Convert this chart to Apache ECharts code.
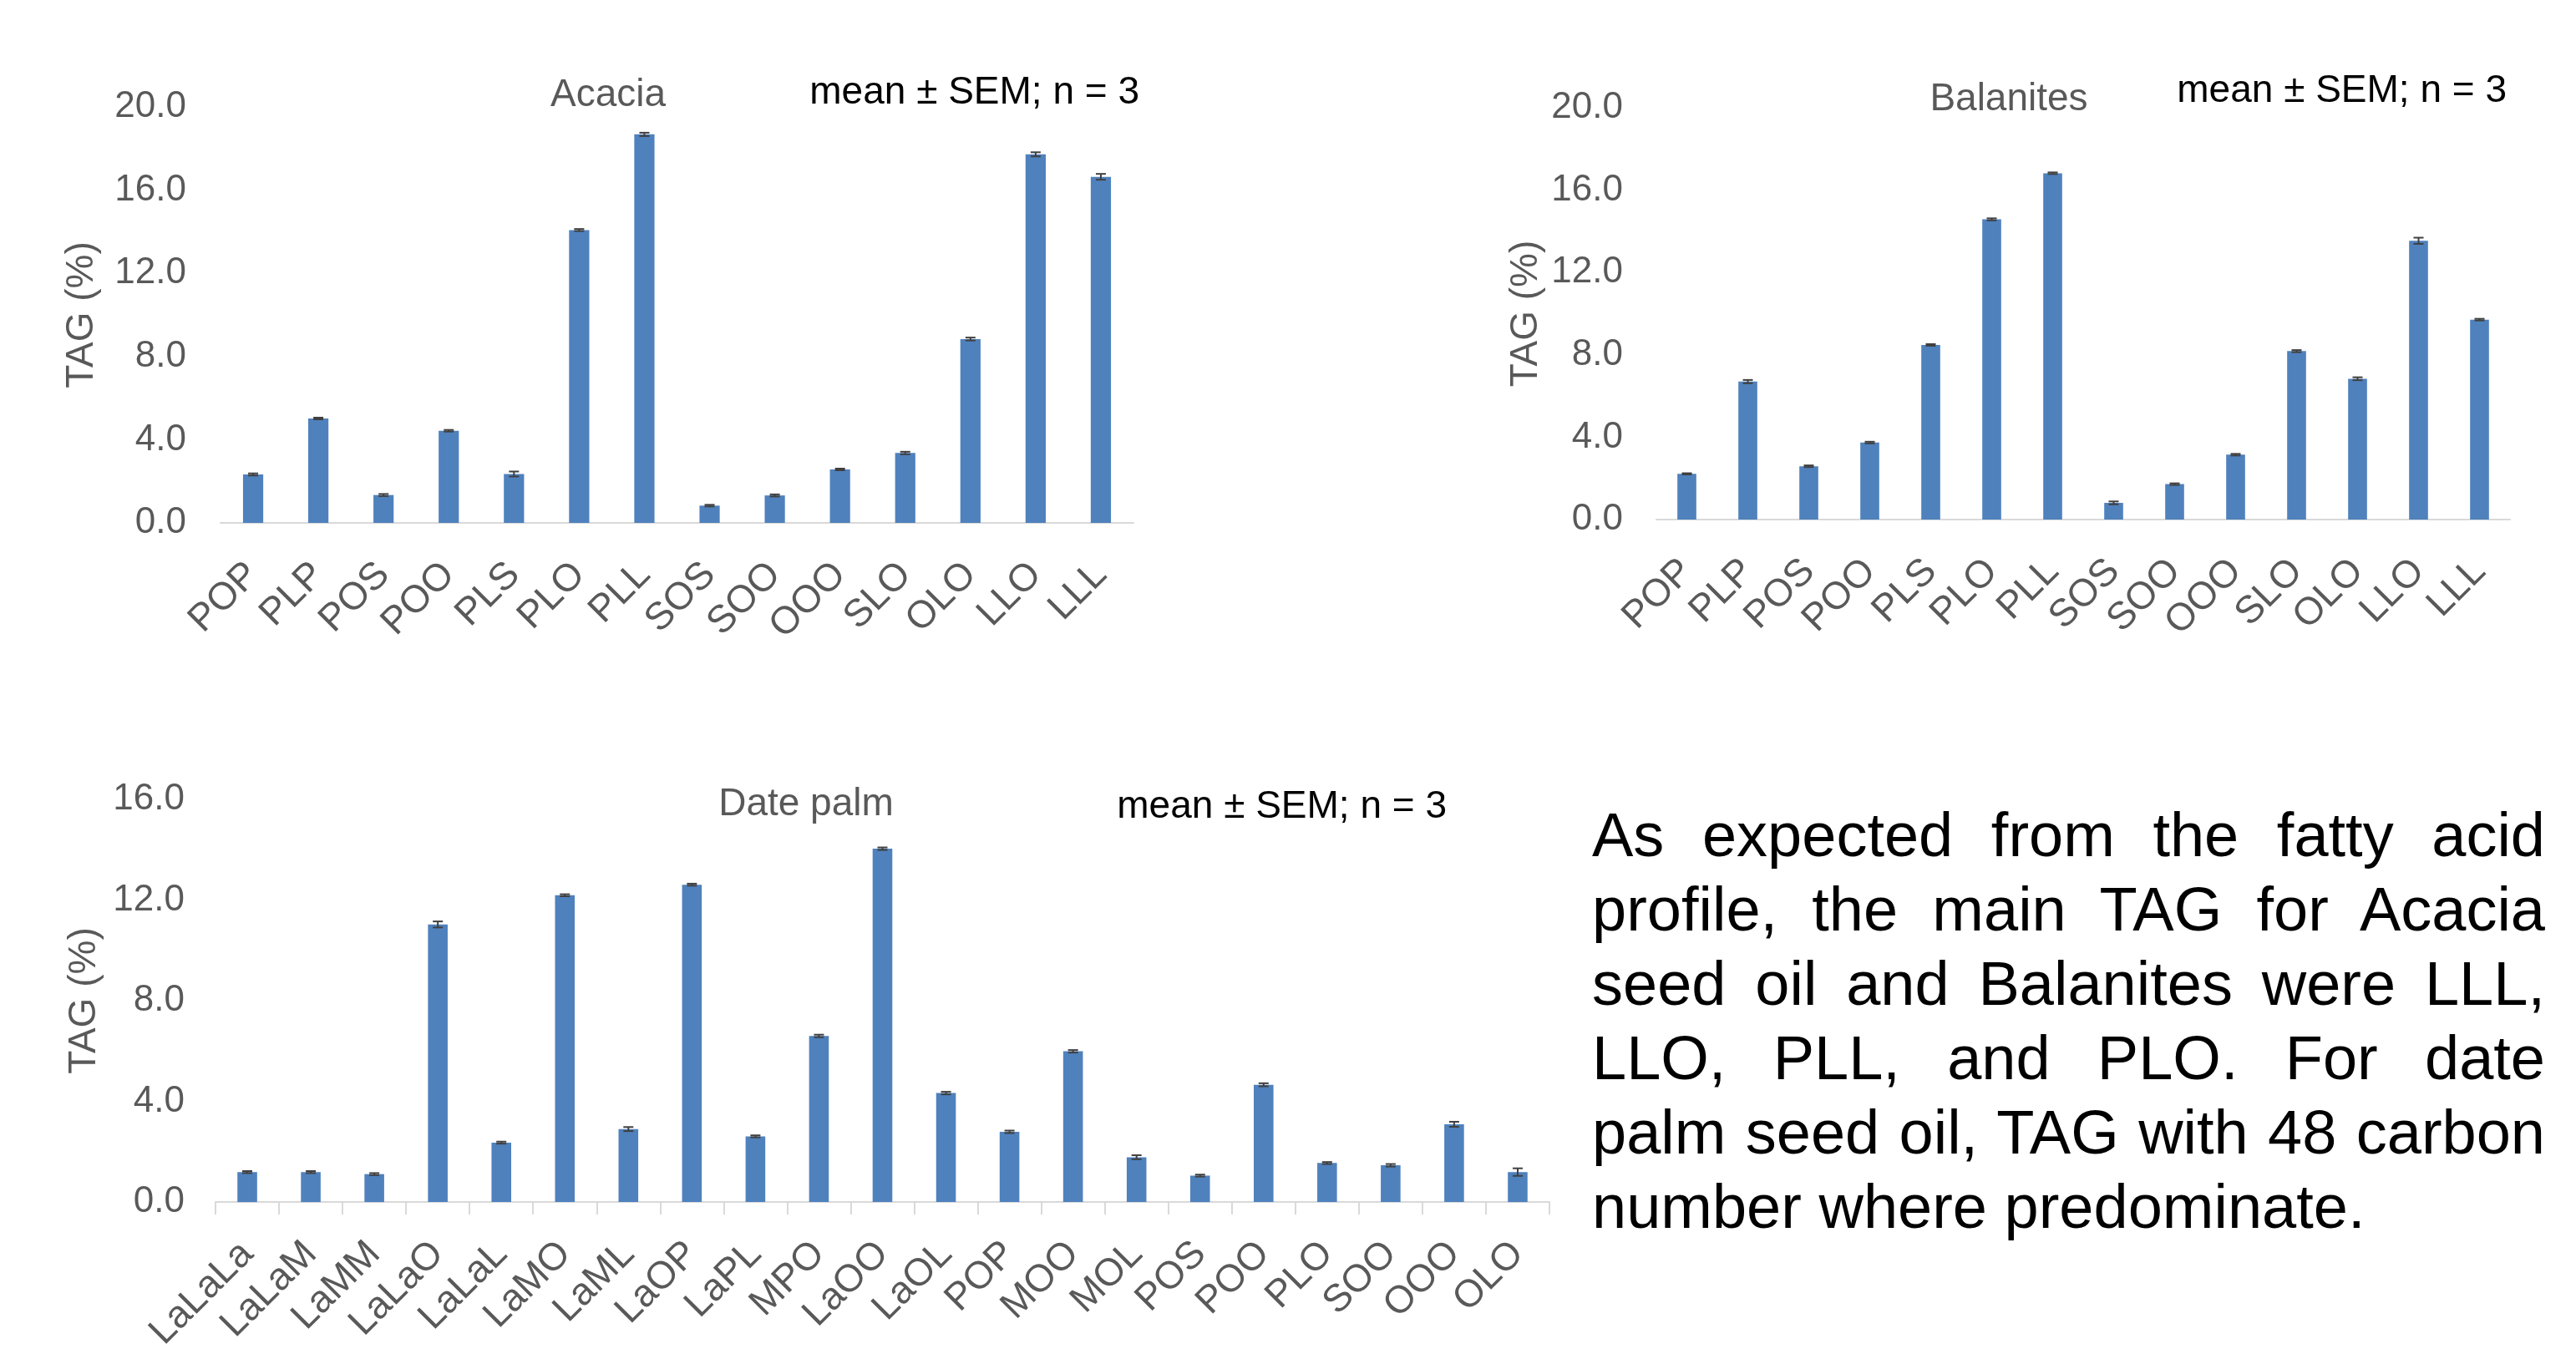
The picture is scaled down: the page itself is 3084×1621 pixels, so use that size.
<!DOCTYPE html>
<html>
<head>
<meta charset="utf-8">
<script src="https://cdn.jsdelivr.net/npm/echarts@6/dist/echarts.min.js"></script>
<style>
html,body{margin:0;padding:0;background:#fff;}
#chart{position:absolute;left:0;top:0;width:3084px;height:1621px;}
#note{position:absolute;left:1906px;top:955px;width:1141px;font-family:"Liberation Sans",Arial,sans-serif;font-size:74px;line-height:89px;color:#000;}
#note div{text-align:justify;text-align-last:justify;white-space:nowrap;}
#note div.last{text-align:left;text-align-last:left;}
</style>
</head>
<body>
<div id="chart"></div>
<div id="note">
<div>As expected from the fatty acid</div>
<div>profile, the main TAG for Acacia</div>
<div>seed oil and Balanites were LLL,</div>
<div>LLO, PLL, and PLO. For date</div>
<div>palm seed oil, TAG with 48 carbon</div>
<div class="last">number where predominate.</div>
</div>
<script>
const acaciaCats = ['POP','PLP','POS','POO','PLS','PLO','PLL','SOS','SOO','OOO','SLO','OLO','LLO','LLL'];
const acaciaVals = [2.33, 5.02, 1.34, 4.43, 2.35, 14.08, 18.68, 0.83, 1.32, 2.57, 3.36, 8.84, 17.72, 16.64];
const acaciaSem  = [0.05, 0.04, 0.05, 0.04, 0.12, 0.05, 0.08, 0.04, 0.05, 0.04, 0.06, 0.07, 0.10, 0.14];

const balanitesCats = ['POP','PLP','POS','POO','PLS','PLO','PLL','SOS','SOO','OOO','SLO','OLO','LLO','LLL'];
const balanitesVals = [2.22, 6.70, 2.59, 3.74, 8.48, 14.58, 16.82, 0.81, 1.72, 3.15, 8.18, 6.84, 13.54, 9.71];
const balanitesSem  = [0.03, 0.08, 0.04, 0.04, 0.04, 0.05, 0.04, 0.07, 0.04, 0.04, 0.05, 0.07, 0.15, 0.04];

const datePalmCats = ['LaLaLa','LaLaM','LaMM','LaLaO','LaLaL','LaMO','LaML','LaOP','LaPL','MPO','LaOO','LaOL','POP','MOO','MOL','POS','POO','PLO','SOO','OOO','OLO'];
const datePalmVals = [1.19, 1.19, 1.11, 11.03, 2.36, 12.19, 2.90, 12.61, 2.61, 6.60, 14.04, 4.33, 2.79, 5.99, 1.78, 1.05, 4.66, 1.55, 1.46, 3.09, 1.19];
const datePalmSem  = [0.04, 0.04, 0.04, 0.12, 0.04, 0.04, 0.08, 0.04, 0.04, 0.05, 0.05, 0.05, 0.05, 0.05, 0.08, 0.04, 0.06, 0.04, 0.05, 0.10, 0.15];

const yTicks20 = {min: 0, max: 20, interval: 4};
const yTicks16 = {min: 0, max: 16, interval: 4};

const FONT = '"Liberation Sans", Arial, sans-serif';
const GRAY = '#595959';
const BAR = '#4f81bd';

const grids = [
  {left: 264, top: 128, width: 1093, height: 498},
  {left: 1983, top: 129, width: 1022, height: 493},
  {left: 258, top: 957, width: 1597, height: 484}
];

function xAxis(gi, cats, ticks) {
  return {
    type: 'category', gridIndex: gi, data: cats,
    axisLine: {lineStyle: {color: '#d9d9d9', width: 2}},
    axisTick: {show: ticks, length: 15, lineStyle: {color: '#d9d9d9', width: 2}},
    axisLabel: {rotate: 45, fontSize: 46, color: GRAY, fontFamily: FONT, margin: 55, interval: 0},
    splitLine: {show: false}
  };
}
function yAxis(gi, t, gap, margin) {
  return {
    type: 'value', gridIndex: gi, min: t.min, max: t.max, interval: t.interval,
    name: 'TAG (%)', nameLocation: 'middle', nameGap: gap, nameRotate: 90,
    nameTextStyle: {fontSize: 46, color: GRAY, fontFamily: FONT},
    axisLine: {show: false}, axisTick: {show: false}, splitLine: {show: false},
    axisLabel: {fontSize: 44, color: GRAY, fontFamily: FONT, margin: margin,
      formatter: v => v.toFixed(1)}
  };
}
function barSeries(gi, vals) {
  return {type: 'bar', xAxisIndex: gi, yAxisIndex: gi, data: vals, barWidth: '31%',
    itemStyle: {color: BAR}, silent: true};
}
function errSeries(gi, vals, sem) {
  return {
    type: 'custom', xAxisIndex: gi, yAxisIndex: gi, silent: true, z: 5,
    data: vals.map((v, i) => [i, v, sem[i]]),
    encode: {x: 0, y: 1},
    renderItem: function (params, api) {
      const i = api.value(0), v = api.value(1), e = api.value(2);
      const hi = api.coord([i, v + e]);
      const lo = api.coord([i, v - e]);
      const w = 6;
      const st = {stroke: '#404040', lineWidth: 2};
      return {type: 'group', children: [
        {type: 'line', shape: {x1: hi[0], y1: hi[1], x2: lo[0], y2: lo[1]}, style: st},
        {type: 'line', shape: {x1: hi[0] - w, y1: hi[1], x2: hi[0] + w, y2: hi[1]}, style: st},
        {type: 'line', shape: {x1: lo[0] - w, y1: lo[1], x2: lo[0] + w, y2: lo[1]}, style: st}
      ]};
    }
  };
}
function label(x, y, text, align, color) {
  return {type: 'text', x: x, y: y, silent: true,
    style: {text: text, fill: color, font: '46px ' + FONT, textAlign: align, textVerticalAlign: 'middle'}};
}

const chart = echarts.init(document.getElementById('chart'), null, {renderer: 'canvas'});
chart.setOption({
  animation: false,
  backgroundColor: '#fff',
  grid: grids,
  xAxis: [xAxis(0, acaciaCats, false), xAxis(1, balanitesCats, false), xAxis(2, datePalmCats, true)],
  yAxis: [yAxis(0, yTicks20, 143, 41), yAxis(1, yTicks20, 133, 40), yAxis(2, yTicks16, 129, 37)],
  series: [
    barSeries(0, acaciaVals), errSeries(0, acaciaVals, acaciaSem),
    barSeries(1, balanitesVals), errSeries(1, balanitesVals, balanitesSem),
    barSeries(2, datePalmVals), errSeries(2, datePalmVals, datePalmSem)
  ],
  graphic: [
    label(728, 114, 'Acacia', 'center', GRAY),
    label(1364, 111, 'mean ± SEM; n = 3', 'right', '#000'),
    label(2405, 119, 'Balanites', 'center', GRAY),
    label(3001, 109, 'mean ± SEM; n = 3', 'right', '#000'),
    label(965, 963, 'Date palm', 'center', GRAY),
    label(1732, 966, 'mean ± SEM; n = 3', 'right', '#000')
  ]
});
</script>
</body>
</html>
